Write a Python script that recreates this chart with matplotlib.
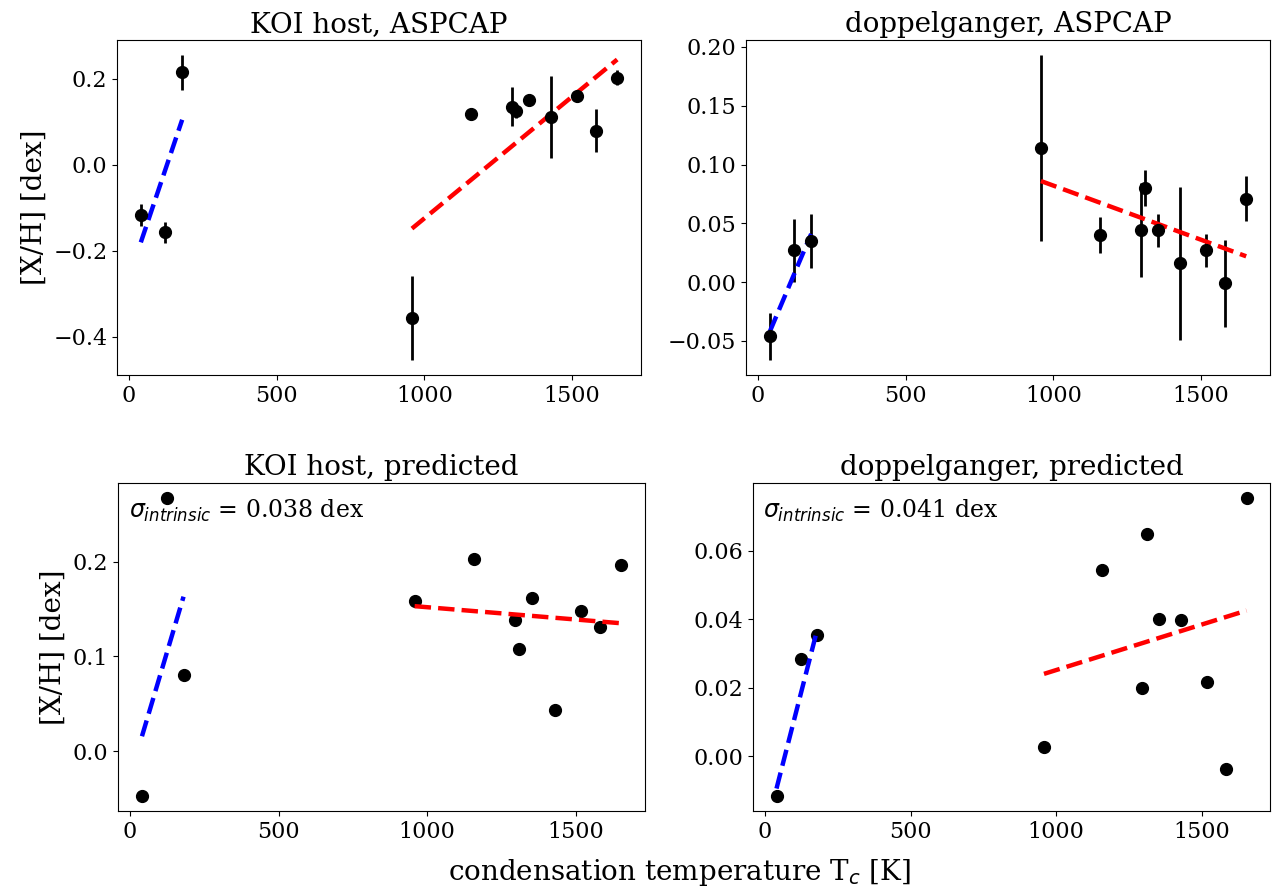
import numpy as np
import matplotlib
matplotlib.use("Agg")
import matplotlib.pyplot as plt

plt.rcParams['font.family'] = ['DejaVu Serif']
plt.rcParams['mathtext.fontset'] = 'dejavusans'

# condensation temperatures [K]
tc = [40, 123, 180, 958, 1158, 1296, 1310, 1353, 1429, 1517, 1582, 1653]

# KOI host, ASPCAP
koi_asp = [-0.117, -0.157, 0.215, -0.356, 0.119, 0.135, 0.125, 0.151, 0.112, 0.160, 0.080, 0.203]
koi_asp_err = [0.025, 0.025, 0.040, 0.097, 0.006, 0.045, 0.015, 0.008, 0.095, 0.010, 0.050, 0.018]
# doppelganger, ASPCAP
dop_asp = [-0.046, 0.027, 0.035, 0.114, 0.040, 0.044, 0.080, 0.044, 0.016, 0.027, -0.001, 0.071]
dop_asp_err = [0.020, 0.027, 0.023, 0.079, 0.015, 0.040, 0.015, 0.014, 0.065, 0.014, 0.037, 0.019]
# predicted
koi_pred = [-0.047, 0.267, 0.080, 0.158, 0.203, 0.138, 0.108, 0.162, 0.044, 0.148, 0.131, 0.196]
dop_pred = [-0.0117, 0.0283, 0.0353, 0.0027, 0.0543, 0.0198, 0.0649, 0.0400, 0.0397, 0.0215, -0.0037, 0.0754]

# fit line end points (volatile: 40-180 K, refractory: 958-1653 K)
vol_x = [40, 180]
ref_x = [958, 1653]
koi_asp_vol = [-0.180, 0.105]
koi_asp_ref = [-0.148, 0.245]
dop_asp_vol = [-0.042, 0.041]
dop_asp_ref = [0.086, 0.022]
koi_pred_vol = [0.016, 0.163]
koi_pred_ref = [0.153, 0.135]
dop_pred_vol = [-0.0095, 0.037]
dop_pred_ref = [0.0240, 0.0425]

titles = ["KOI host, ASPCAP", "doppelganger, ASPCAP", "KOI host, predicted", "doppelganger, predicted"]
sigmas = ["0.038", "0.041"]

fig = plt.figure(figsize=(12.79, 8.89), dpi=100)
W, H = 1279, 889
def box(l, t, r, b):
    return [l / W, 1 - b / H, (r - l) / W, (b - t) / H]

axes = [fig.add_axes(box(117, 40, 641, 375)),
        fig.add_axes(box(746, 40, 1270, 375)),
        fig.add_axes(box(118, 483, 645, 811)),
        fig.add_axes(box(753, 483, 1270, 811))]

asp = [(koi_asp, koi_asp_err, koi_asp_vol, koi_asp_ref), (dop_asp, dop_asp_err, dop_asp_vol, dop_asp_ref)]
for ax, (y, e, v, r) in zip(axes[:2], asp):
    ax.errorbar(tc, y, yerr=e, fmt='o', color='k', ms=8.5, elinewidth=2, capsize=0)
    ax.plot(vol_x, v, 'b--', lw=3.2)
    ax.plot(ref_x, r, 'r--', lw=3.2)

pred = [(koi_pred, koi_pred_vol, koi_pred_ref), (dop_pred, dop_pred_vol, dop_pred_ref)]
for ax, (y, v, r), s in zip(axes[2:], pred, sigmas):
    ax.plot(tc, y, 'o', color='k', ms=8.5)
    ax.plot(vol_x, v, 'b--', lw=3.2)
    ax.plot(ref_x, r, 'r--', lw=3.2)
    ax.text(0.02, 0.955, r'$\sigma_{intrinsic}$ = ' + s + ' dex', transform=ax.transAxes,
            ha='left', va='top', fontsize=17)

for ax, t in zip(axes, titles):
    ax.set_title(t, fontsize=20)
    ax.tick_params(labelsize=16)
    ax.set_xticks([0, 500, 1000, 1500])

axes[0].set_yticks([-0.4, -0.2, 0.0, 0.2])
axes[2].set_yticks([0.0, 0.1, 0.2])
axes[3].set_yticks([0.0, 0.02, 0.04, 0.06])
axes[0].set_ylabel('[X/H] [dex]', fontsize=20)
axes[2].set_ylabel('[X/H] [dex]', fontsize=20)
fig.text(679 / W, 1 - 872 / H, r'condensation temperature T$_c$ [K]', ha='center', va='center', fontsize=20)

fig.savefig('out.png', dpi=100)
